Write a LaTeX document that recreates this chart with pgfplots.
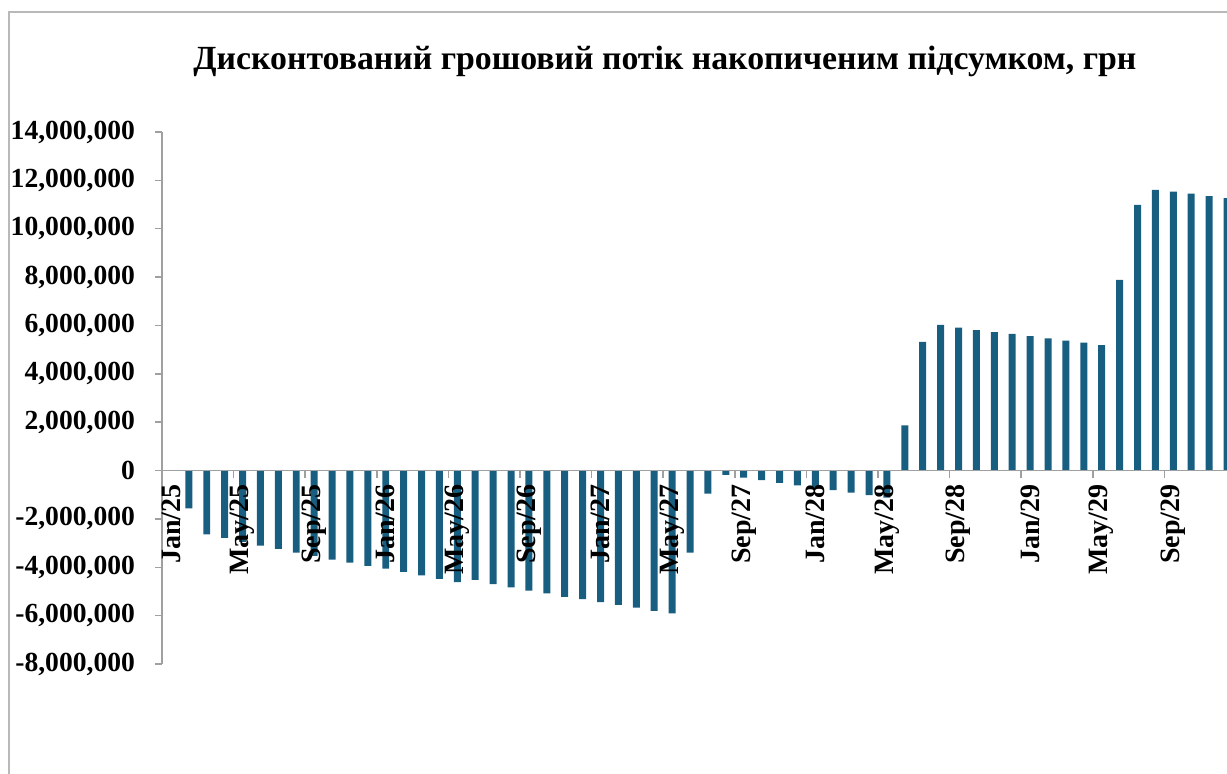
\documentclass[border=0pt]{standalone}
\usepackage{pgfplots}
\pgfplotsset{compat=1.18}
\usepackage{fontspec}
\setmainfont{Liberation Serif}
\definecolor{barblue}{RGB}{23,94,128}
\definecolor{axgray}{RGB}{160,160,160}
\definecolor{framegray}{RGB}{185,185,185}
\pgfplotstableread{
n val
0 0
1 -1560000
2 -2640000
3 -2780000
4 -2950000
5 -3100000
6 -3240000
7 -3390000
8 -3530000
9 -3680000
10 -3810000
11 -3940000
12 -4060000
13 -4190000
14 -4330000
15 -4480000
16 -4610000
17 -4520000
18 -4700000
19 -4830000
20 -4970000
21 -5080000
22 -5220000
23 -5320000
24 -5440000
25 -5550000
26 -5670000
27 -5800000
28 -5910000
29 -3390000
30 -950000
31 -180000
32 -290000
33 -400000
34 -510000
35 -610000
36 -720000
37 -810000
38 -910000
39 -1020000
40 -1120000
41 1870000
42 5320000
43 6020000
44 5910000
45 5810000
46 5720000
47 5650000
48 5560000
49 5470000
50 5370000
51 5290000
52 5190000
53 7890000
54 10990000
55 11610000
56 11530000
57 11450000
58 11350000
59 11270000
}\cfdata
\begin{document}
\begin{tikzpicture}
\begin{axis}[
  at={(81pt,-332pt)}, anchor=south west,
  scale only axis, width=532.5pt, height=266pt,
  xmin=-0.5, xmax=59, ymin=-8000000, ymax=14000000,
  axis on top,
  axis x line=middle, axis y line=left,
  axis line style={-, draw=axgray, line width=0.75pt},
  hide obscured x ticks=false, hide obscured y ticks=false,
  scaled y ticks=false,
  ytick={-8000000,-6000000,-4000000,-2000000,0,2000000,4000000,6000000,8000000,10000000,12000000,14000000},
  yticklabels={{-8,000,000},{-6,000,000},{-4,000,000},{-2,000,000},{0},{2,000,000},{4,000,000},{6,000,000},{8,000,000},{10,000,000},{12,000,000},{14,000,000}},
  xtick={0,4,...,56},
  xticklabels={Jan/25,May/25,Sep/25,Jan/26,May/26,Sep/26,Jan/27,May/27,Sep/27,Jan/28,May/28,Sep/28,Jan/29,May/29,Sep/29},
  minor xtick={-0.5,3.5,...,59},
  major x tick style={draw=none},
  minor x tick style={draw=axgray, line width=0.75pt},
  major y tick style={draw=axgray, line width=0.75pt},
  xtick align=outside, ytick align=outside,
  major tick length=3.5pt, minor tick length=3.5pt,
  xticklabel style={rotate=90, anchor=east, font=\fontsize{14}{16}\selectfont\bfseries},
  yticklabel style={anchor=east, font=\fontsize{13.8}{16}\selectfont\bfseries, xshift=-6.5pt},
  ybar, bar width=0.39,
]
\addplot[fill=barblue, draw=none] table[x=n, y=val] {\cfdata};
\end{axis}
\draw[framegray, line width=0.75pt] (4.5pt,-420pt) -- (4.5pt,-6pt) -- (700pt,-6pt);
\node[anchor=base, font=\fontsize{16.9}{20}\selectfont\bfseries] at (332.5pt,-34.5pt) {Дисконтований грошовий потік накопиченим підсумком, грн};
\pgfresetboundingbox
\useasboundingbox (0pt,0pt) rectangle (613.5pt,-386.5pt);
\end{tikzpicture}
\end{document}
